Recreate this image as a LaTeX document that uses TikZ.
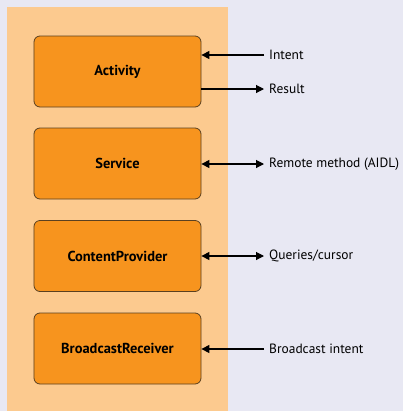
\documentclass[tikz,border=0pt]{standalone}
\usepackage{fontspec}
\setmainfont{PT Sans}
\usetikzlibrary{arrows.meta}
\definecolor{bgc}{HTML}{E8E8F3}
\definecolor{panelc}{HTML}{FCCA8F}
\definecolor{boxc}{HTML}{F7941E}
\definecolor{edgec}{HTML}{5A4020}
\begin{document}
\begin{tikzpicture}[x=1bp,y=-1bp,
  comp/.style={draw=edgec,line width=0.8bp,fill=boxc,rounded corners=6bp,minimum width=167bp,minimum height=71bp,font=\bfseries\fontsize{14.5}{16}\selectfont,inner sep=0pt},
  lbl/.style={anchor=west,font=\fontsize{13.5}{15}\selectfont,inner sep=0pt},
  conn/.style={line width=1.1bp,-{Triangle[length=8bp,width=8bp]}},
  conn2/.style={line width=1.1bp,{Triangle[length=8bp,width=8bp]}-{Triangle[length=8bp,width=8bp]}}]
\fill[bgc] (0,0) rectangle (403,411);
\useasboundingbox (0,0) rectangle (403,411);
\fill[panelc] (7,7) rectangle (228,411);
\node[comp] (act) at (117.5,71.5) {Activity};
\node[comp] (srv) at (117.5,163.5) {Service};
\node[comp] (cp) at (117.5,256) {ContentProvider};
\node[comp] (br) at (117.5,348.5) {BroadcastReceiver};
\node[lbl] (intent) at (269,55) {Intent};
\node[lbl] (result) at (269,89) {Result};
\node[lbl] (rm) at (269,164) {Remote method (AIDL)};
\node[lbl] (qc) at (269,256) {Queries/cursor};
\node[lbl] (bi) at (269,349) {Broadcast intent};
\coordinate (a1) at (act.east |- intent.west);
\coordinate (a2) at (act.east |- result.west);
\draw[conn] ([xshift=-5bp]intent.west) -- (a1);
\draw[conn] (a2) -- ([xshift=-5bp]result.west);
\draw[conn2] (srv.east |- rm.west) -- ([xshift=-5bp]rm.west);
\draw[conn2] (cp.east |- qc.west) -- ([xshift=-5bp]qc.west);
\draw[conn] ([xshift=-5bp]bi.west) -- (br.east |- bi.west);
\end{tikzpicture}
\end{document}
